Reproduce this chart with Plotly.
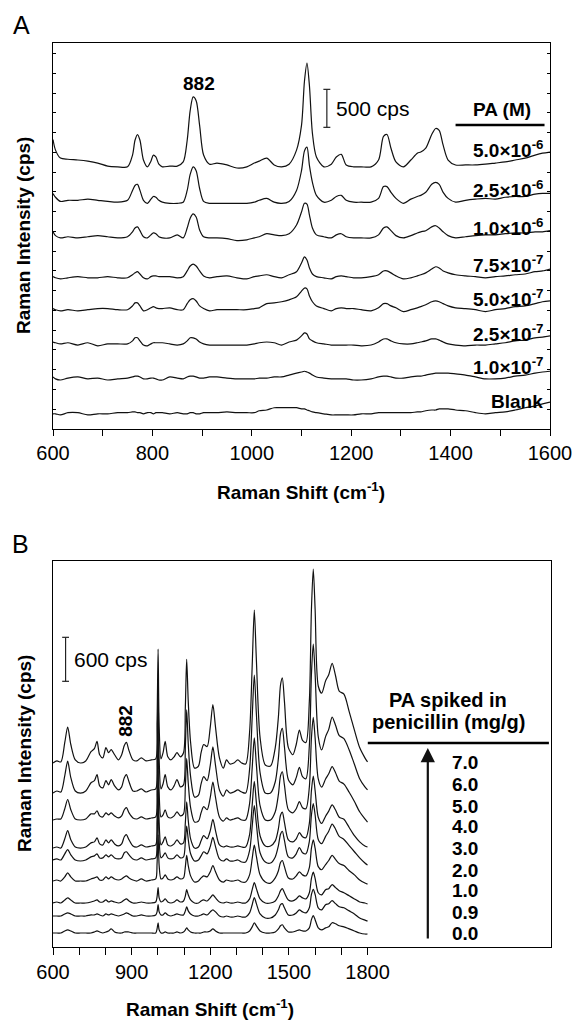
import plotly.graph_objects as go

W, H = 573, 1021

# ---------------- Panel A data (Raman shift, cm-1 ; intensity, cps) ----------------
a_shift = [600,605,615,630,650,670,690,710,730,750, 760,765,770,775,782,790,797,802,807,813,
           820,835,850,862,870,876,882,888,895,903, 915,930,950,970,990,1005,1015,1030,1045,1060,
           1075,1090,1100,1106,1111,1116,1122,1130,1145,1160, 1170,1180,1190,1205,1220,1240,1255,1265,1272,1280,
           1290,1305,1320,1333,1340,1350,1362,1370,1377,1385, 1395,1410,1430,1450,1470,1490,1510,1530,1550,1570,
           1585,1600]

a_labels = ["5.0×10<sup>-6</sup>", "2.5×10<sup>-6</sup>", "1.0×10<sup>-6</sup>", "7.5×10<sup>-7</sup>",
            "5.0×10<sup>-7</sup>", "2.5×10<sup>-7</sup>", "1.0×10<sup>-7</sup>", "Blank"]
a_offsets = [3500, 3010, 2530, 1990, 1570, 1120, 645, 200]
a_label_y = [3680, 3165, 2665, 2178, 1718, 1270, 823, 365]

a_5e6 = [310,170,65,50,40,25,0,-40,-50,-50, 105,300,375,300,40,-50,25,105,80,-15,
         -50,-40,-40,15,300,690,870,820,495,105, -15,0,-25,-65,-50,0,25,65,-25,-50,
         -15,170,495,1080,1315,1015,390,80,-50,-15, 80,115,-25,-50,-50,-50,40,350,375,195,
         15,-50,40,130,145,195,375,455,430,235, 40,-25,-25,-25,-15,0,15,40,65,105, 130,145]
a_25e6 = [90,40,-15,0,0,15,0,-15,-25,0, 130,195,210,130,0,-40,15,50,40,0,
          -25,-40,-40,-25,130,340,440,390,155,-15, -40,-40,-40,-40,-40,-25,0,25,-25,-40,
          -15,130,390,650,700,455,235,65,-25,0, 50,65,0,-25,-25,-25,25,180,180,105,
          25,-40,15,50,65,105,210,235,210,105, 25,-25,0,15,25,15,40,50,50,80, 90,90]
a_1e6 = [65,15,-15,0,-15,0,15,0,-15,0, 65,115,130,80,0,-15,25,50,40,0,
         -15,-15,25,-15,115,245,300,260,90,0, -15,-15,-25,-50,-40,-15,0,40,25,15,
         40,155,325,440,430,285,115,25,0,-15, 25,40,0,-15,-15,-15,25,115,130,80,
         15,-15,15,50,65,80,130,145,115,65, 15,-15,0,15,25,25,40,50,50,65, 65,80]
a_75e7 = [15,0,-15,0,15,0,0,15,0,0, 40,65,80,50,0,-15,15,25,25,15,
          15,15,0,15,90,155,180,155,90,25, 0,15,25,0,-15,15,25,40,15,0,
          40,80,195,275,235,130,50,15,0,-15, 15,25,15,0,0,15,40,90,90,65,
          25,-15,0,25,40,65,115,145,130,90, 65,40,25,15,0,15,25,40,50,80, 90,115]
a_5e7 = [15,0,-15,0,-15,0,15,15,0,0, 50,90,90,50,-15,0,25,40,25,15,
         15,25,0,0,80,130,145,115,50,15, -15,0,0,0,0,15,25,80,90,105,
         130,170,245,285,275,180,105,50,15,-15, 15,25,15,15,0,-15,25,80,80,50,
         25,-25,0,25,40,65,105,115,105,80, 50,25,15,0,-25,0,15,40,50,80, 105,115]
a_25e7 = [25,15,0,15,-15,15,-25,0,0,0, 40,80,80,40,-15,-25,0,15,15,15,
          15,0,-15,0,40,80,80,65,25,0, -15,-15,-15,-15,-15,0,15,25,15,-15,
          25,50,105,145,130,65,40,15,0,-15, -15,-15,-15,-15,-25,-15,25,65,65,40,
          15,0,0,15,25,40,65,65,50,25, 0,-15,-25,-15,-15,0,15,40,50,80, 90,105]
a_1e7 = [40,15,0,25,40,15,25,0,15,25, 40,50,50,40,15,15,25,25,15,0,
         0,40,25,15,40,50,50,40,25,25, 40,40,25,15,15,15,25,25,40,40,
         65,90,105,115,105,90,65,40,25,15, 15,15,15,0,0,15,40,50,50,40,
         25,25,40,50,50,65,80,90,90,90, 90,80,65,40,15,15,25,50,65,90, 105,115]
a_blank = [0,0,-15,15,15,-15,0,0,15,15, 25,25,15,15,0,15,15,0,15,15,
           15,0,15,0,0,15,15,0,0,15, 15,15,25,15,15,15,40,50,80,80,
           80,80,65,65,50,40,25,15,0,-15, -15,-15,-15,-15,0,0,15,15,15,15,
           15,15,15,25,25,40,50,50,65,65, 65,50,40,15,0,15,25,50,80,105, 130,155]
a_series = [a_5e6, a_25e6, a_1e6, a_75e7, a_5e7, a_25e7, a_1e7, a_blank]

# ---------------- Panel B data ----------------
b_shift = [600,615,630,645,656,668,685,705,725,745, 758,768,778,790,802,812,822,835,850,862,
           872,880,890,905,920,937,955,975,992,997, 1001,1005,1012,1020,1028,1038,1050,1062,1073,1086,
           1098,1105,1110,1116,1125,1140,1155,1165,1175,1188, 1200,1210,1220,1235,1250,1262,1275,1290,1305,1320,
           1335,1350,1360,1368,1376,1390,1410,1430,1448,1460, 1468,1475,1483,1498,1515,1528,1540,1552,1565,1578,
           1586,1593,1600,1612,1625,1640,1652,1665,1678,1692, 1710,1730,1750,1770,1790,1800]

b_levels = ["7.0", "6.0", "5.0", "4.0", "3.0", "2.0", "1.0", "0.9", "0.0"]
b_offsets = [2510, 2100, 1732, 1350, 1187, 900, 600, 423, 191]
b_label_y = [2510, 2210, 1923, 1650, 1350, 1050, 777, 477, 191]

b_70 = [0,28,14,280,490,252,42,0,28,154, 196,294,112,70,210,140,182,112,42,112,
        238,280,168,42,28,70,28,42,56,560, 1554,490,56,140,294,84,42,84,140,84,
        140,770,1414,840,280,-70,-42,140,252,224, 490,798,490,70,-70,42,-14,0,42,0,
        -14,420,1330,2086,1400,350,-28,-42,210,630, 1064,1162,840,210,112,252,448,308,280,840,
        2100,2646,2100,1050,952,1120,1204,1358,1190,980, 938,700,448,210,70,14]
b_60 = [0,28,14,238,434,210,28,0,28,140, 168,252,98,70,168,112,182,98,42,84,
        210,252,154,28,28,56,14,42,56,504, 1400,448,56,126,252,84,42,98,182,84,
        112,630,1134,672,224,-56,-28,126,224,168, 378,630,378,42,-42,42,0,14,42,14,
        0,322,1036,1610,1078,280,0,0,154,476, 812,882,630,182,112,210,350,224,196,644,
        1624,2030,1624,770,588,770,868,1036,924,784, 742,588,392,196,84,42]
b_50 = [0,14,14,154,280,140,14,0,14,84, 84,126,56,42,98,70,98,56,28,56,
        140,168,98,28,14,42,14,28,42,434, 1190,378,42,70,140,42,28,56,112,56,
        84,462,840,504,168,-28,-14,98,182,140, 308,518,308,42,-14,28,0,14,28,0,
        0,224,714,1120,756,196,0,0,112,350, 602,658,476,140,98,154,252,168,154,448,
        1120,1400,1120,560,448,560,630,728,644,532, 490,378,252,112,14,-28]
b_40 = [0,14,0,126,238,112,14,0,14,70, 84,140,56,42,112,70,112,56,28,56,
        154,182,112,28,14,42,14,28,42,378, 1050,336,42,84,154,42,28,56,112,56,
        70,350,630,378,126,0,14,98,168,126, 238,392,238,42,14,28,14,14,28,14,
        14,182,588,910,616,168,28,28,98,266, 448,490,350,112,84,126,210,154,140,336,
        784,980,784,420,336,434,504,588,518,420, 392,280,168,84,28,14]
b_30 = [0,14,0,84,140,70,0,-14,0,42, 56,84,28,28,70,42,70,28,14,28,
        98,112,70,14,0,28,0,14,28,308, 840,266,28,56,98,28,14,28,70,28,
        42,252,462,280,84,-14,0,56,112,84, 182,308,182,14,-14,14,-14,-14,0,-28,
        -28,126,462,742,490,98,-28,-42,42,196, 350,392,266,42,28,84,168,98,84,252,
        616,770,616,280,224,322,392,490,420,322, 280,196,112,28,-42,-70]
b_20 = [0,14,0,56,112,56,0,0,0,28, 42,56,14,14,56,28,56,28,14,28,
        56,70,42,14,0,28,0,14,28,238, 630,210,28,42,84,28,14,28,56,28,
        42,196,350,210,70,-14,0,42,70,56, 126,210,126,14,-14,14,0,0,14,-14,
        -14,84,308,490,336,84,-14,-28,42,140, 252,280,196,42,28,70,126,84,70,182,
        448,560,448,196,154,224,280,350,294,238, 210,140,84,14,-28,-42]
b_10 = [0,14,0,42,70,42,0,0,0,14, 28,42,14,14,42,14,28,14,0,14,
        42,56,28,0,0,14,0,0,14,84, 210,70,14,28,56,14,0,14,42,14,
        28,98,182,112,42,0,0,28,42,28, 70,112,70,14,0,14,0,0,14,0,
        0,56,182,280,196,56,0,0,28,98, 168,196,140,42,28,56,98,70,56,140,
        336,420,336,140,112,182,196,252,210,168, 140,98,56,14,0,-14]
b_09 = [0,0,0,28,42,28,0,0,0,14, 14,28,14,0,28,14,28,14,0,14,
        28,42,28,0,0,14,0,0,14,56, 154,56,14,14,42,14,0,14,28,14,
        14,70,126,70,28,0,0,14,28,14, 56,84,56,0,-14,0,-14,-14,0,-14,
        -14,42,154,252,168,28,-28,-28,14,84, 154,168,112,14,14,42,84,56,42,112,
        294,364,294,112,84,154,168,210,168,126, 112,70,28,-28,-56,-70]
b_00 = [0,0,0,28,42,28,0,0,0,0, 14,28,14,0,14,28,56,14,0,0,
        14,14,14,0,0,0,0,0,0,56, 140,42,0,0,14,0,0,0,14,0,
        14,42,70,42,14,0,0,0,14,14, 28,56,28,0,0,0,0,0,0,0,
        0,28,84,140,98,28,0,0,14,56, 98,112,70,14,14,28,42,28,28,70,
        182,238,182,70,42,70,84,140,126,98, 84,56,28,0,-14,-14]
b_series = [b_70, b_60, b_50, b_40, b_30, b_20, b_10, b_09, b_00]

for s in a_series:
    assert len(s) == len(a_shift), len(s)
for s in b_series:
    assert len(s) == len(b_shift), len(s)

FONT = "Liberation Sans, Arial, Helvetica, sans-serif"
LINE = dict(color="#111111", width=1.2, shape="spline", smoothing=0.8)

fig = go.Figure()
for vals, off, lab in zip(a_series, a_offsets, a_labels):
    fig.add_trace(go.Scatter(x=a_shift, y=[off + v for v in vals], mode="lines",
                             line=LINE, name=lab, showlegend=False,
                             xaxis="x", yaxis="y", hoverinfo="skip"))
for vals, off, lab in zip(b_series, b_offsets, b_levels):
    fig.add_trace(go.Scatter(x=b_shift, y=[off + v for v in vals], mode="lines",
                             line=LINE, name=lab, showlegend=False,
                             xaxis="x2", yaxis="y2", hoverinfo="skip"))

def px_x(p):
    return p / W

def px_y(p):
    return 1 - p / H

A_YMAX = 5080
B_YMAX = 5265

ax_common = dict(showgrid=False, zeroline=False, showline=True, linecolor="black",
                 automargin=False, tickcolor="black",
                 tickfont=dict(family=FONT, size=20, color="black"))

fig.update_layout(
    width=W, height=H, margin=dict(l=0, r=0, t=0, b=0, pad=0, autoexpand=False),
    paper_bgcolor="white", plot_bgcolor="white", showlegend=False,
    xaxis=dict(domain=[px_x(53), px_x(550)], range=[600, 1600], anchor="y",
               tickmode="array", tickvals=[600, 800, 1000, 1200, 1400, 1600],
               ticks="outside", ticklen=6, tickwidth=1, linewidth=1, mirror=True,
               minor=dict(tickmode="array", tickvals=[700, 900, 1100, 1300, 1500],
                          ticks="outside", ticklen=6, tickwidth=1, tickcolor="black"),
               ticklabelstandoff=0, **ax_common),
    xaxis3=dict(overlaying="x", side="top", anchor="y", range=[600, 1600],
                tickmode="linear", tick0=600, dtick=100, ticks="inside", ticklen=4,
                tickcolor="black", showticklabels=False, showline=False,
                showgrid=False, zeroline=False, automargin=False),
    yaxis=dict(domain=[px_y(429), px_y(43)], range=[0, A_YMAX], anchor="x",
               tickmode="linear", tick0=0, dtick=260, ticks="inside", ticklen=3,
               showticklabels=False, linewidth=1, mirror="ticks", **ax_common),
    xaxis2=dict(domain=[px_x(53), px_x(551)], range=[600, 2500], anchor="y2",
                tickmode="array", tickvals=[600, 900, 1200, 1500, 1800],
                ticks="outside", ticklen=7, tickwidth=1, linewidth=1.3, mirror=True,
                minor=dict(tickmode="array", tickvals=[700, 800, 1000, 1100, 1300, 1400, 1600, 1700],
                           ticks="outside", ticklen=7, tickwidth=1, tickcolor="black"),
                ticklabelstandoff=0, **ax_common),
    yaxis2=dict(domain=[px_y(947), px_y(561)], range=[0, B_YMAX], anchor="x2",
                ticks="", showticklabels=False, linewidth=1.3, mirror=True, **ax_common),
)

shapes = []
# Panel A scale bar (500 cps)
sbA_x, sbA_y0 = 1151, 3970
shapes.append(dict(type="line", xref="x", yref="y", x0=sbA_x, x1=sbA_x, y0=sbA_y0, y1=sbA_y0 + 500,
                   line=dict(color="#222", width=1.2)))
for yy in (sbA_y0, sbA_y0 + 500):
    shapes.append(dict(type="line", xref="x", yref="y", x0=sbA_x - 7, x1=sbA_x + 7, y0=yy, y1=yy,
                       line=dict(color="#222", width=1.2)))
# Panel A legend rule
shapes.append(dict(type="line", xref="x", yref="y", x0=1410, x1=1589, y0=4000, y1=4000,
                   line=dict(color="black", width=2.5)))
# Panel B scale bar (600 cps)
sbB_x, sbB_y0 = 648, 3624
shapes.append(dict(type="line", xref="x2", yref="y2", x0=sbB_x, x1=sbB_x, y0=sbB_y0, y1=sbB_y0 + 600,
                   line=dict(color="#222", width=1.2)))
for yy in (sbB_y0, sbB_y0 + 600):
    shapes.append(dict(type="line", xref="x2", yref="y2", x0=sbB_x - 13, x1=sbB_x + 13, y0=yy, y1=yy,
                       line=dict(color="#222", width=1.2)))
# Panel B legend rule
shapes.append(dict(type="line", xref="x2", yref="y2", x0=1801, x1=2492, y0=2783, y1=2783,
                   line=dict(color="black", width=2.5)))
fig.update_layout(shapes=shapes)

ann = []
def text(x, y, t, size, xref="paper", yref="paper", bold=False, xanchor="center",
         yanchor="middle", angle=0):
    ann.append(dict(x=x, y=y, xref=xref, yref=yref, text=(f"<b>{t}</b>" if bold else t),
                    showarrow=False, xanchor=xanchor, yanchor=yanchor, textangle=angle,
                    font=dict(family=FONT, size=size, color="black")))

# panel letters
text(px_x(21), px_y(25), "A", 25)
text(px_x(20), px_y(544), "B", 25)
# axis titles
text(px_x(24), px_y(236), "Raman Intensity (cps)", 19, bold=True, angle=-90)
text(px_x(301), px_y(491), "Raman Shift (cm<sup>-1</sup>)", 19, bold=True)
text(px_x(24), px_y(754), "Raman Intensity (cps)", 19, bold=True, angle=-90)
text(px_x(210), px_y(1008), "Raman Shift (cm<sup>-1</sup>)", 19, bold=True)

# Panel A annotations
text(893, 4553, "882", 19, xref="x", yref="y", bold=True)
text(1165, 4224, "500 cps", 21, xref="x", yref="y", xanchor="left")
text(1504, 4211, "PA (M)", 19, xref="x", yref="y", bold=True)
for lab, yy in zip(a_labels, a_label_y):
    text(1590, yy, lab, 19, xref="x", yref="y", bold=True, xanchor="right")

# Panel B annotations
text(672, 3928, "600 cps", 21, xref="x2", yref="y2", xanchor="left")
text(879, 3087, "882", 19, xref="x2", yref="y2", bold=True, angle=-90)
text(2108, 3369, "PA spiked in", 20, xref="x2", yref="y2", bold=True)
text(2108, 3069, "penicillin (mg/g)", 20, xref="x2", yref="y2", bold=True)
for lab, yy in zip(b_levels, b_label_y):
    text(2171, yy, lab, 19, xref="x2", yref="y2", bold=True)

# arrow in panel B legend
ann.append(dict(x=2030, y=2714, ax=2030, ay=95, xref="x2", yref="y2", axref="x2", ayref="y2",
                text="", showarrow=True, arrowhead=2, arrowsize=1.3, arrowwidth=2.2,
                arrowcolor="#111"))

fig.update_layout(annotations=ann)
fig.write_html("out.html", config={"displayModeBar": False, "staticPlot": True},
               post_script="document.body.style.margin='0px';document.body.style.overflow='hidden';")
